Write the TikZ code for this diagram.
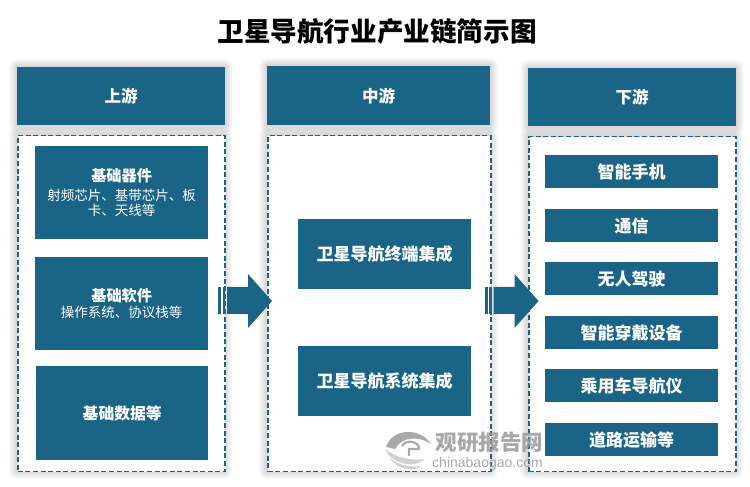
\documentclass[tikz,border=0pt]{standalone}
\usepackage{fontspec}
\setmainfont{Noto Sans CJK SC}
\setsansfont{Liberation Sans}
\definecolor{mainblue}{HTML}{1A6487}
\definecolor{markgray}{HTML}{9A9A9A}
\definecolor{marklight}{HTML}{C8C8C4}
\newcommand{\softshade}[4]{% x0 y0 x1 y1 in px, y measured from top
  \foreach \g in {8,7,6,5,4,3,2,1}{
    \fill[black,opacity=0.018,rounded corners=\g pt]
      ({#1-\g},{487-(#2)+\g}) rectangle ({#3+\g},{487-(#4)-\g});
  }}
\newcommand{\subf}{\fontsize{13.5}{16}\selectfont\mdseries}
\newcommand{\leadf}{\fontsize{15.2}{18}\selectfont\bfseries}
\tikzset{
  x=1pt,y=1pt,
  headbox/.style={fill=mainblue,text=white,font=\fontsize{16.5}{19}\selectfont\bfseries,anchor=north west,inner sep=0pt,align=center,execute at begin node={\vspace*{2pt}}},
  itembox/.style={headbox,font=\fontsize{17}{20}\selectfont\bfseries,execute at begin node={\vspace*{2pt}}},
  stackbox/.style={headbox,font=\leadf},
  framebox/.style={draw=mainblue,line width=1.5pt,dash pattern=on 5pt off 2.6pt,anchor=north west,inner sep=0pt},
  flowarrow/.style={fill=mainblue,draw=none},
  marktext/.style={text=markgray,inner sep=0pt},
}
\newcommand{\placebox}[7]{% style, name, x0, y0, x1, y1, text
  \node[#1,minimum width={(#5-#3)*1pt},minimum height={(#6-#4)*1pt}] (#2) at (#3,{487-(#4)}) {#7};}
\newcommand{\barrow}[1]{% #1 = x shift
  \begin{scope}[xshift=#1pt]
    \fill[flowarrow] (218,{487-287}) rectangle (221,{487-314});
    \fill[flowarrow] (222.5,{487-287}) rectangle (225,{487-314});
    \fill[flowarrow] (227,{487-287}) -- (248,{487-287}) -- (248,{487-274}) -- (272,{487-301})
      -- (248,{487-328}) -- (248,{487-314}) -- (227,{487-314}) -- cycle;
  \end{scope}}
\begin{document}
\begin{tikzpicture}
\useasboundingbox (0,0) rectangle (750,487);
\fill[white] (0,0) rectangle (750,487);
% soft shadows
\softshade{17}{67}{225}{125}
\softshade{267}{66}{490}{125}
\softshade{528}{68}{736}{126}
\softshade{17}{135}{224}{471}
\softshade{267}{135}{490}{471}
\softshade{528}{136}{735}{471}
% title
\node[font=\fontsize{26.6}{30}\selectfont\bfseries,text=black,inner sep=0pt] (title) at (377,{487-31.5}) {卫星导航行业产业链简示图};
% frames
\placebox{framebox,fill=white}{f1}{17}{135}{224}{471}{}
\placebox{framebox,fill=white}{f2}{267}{135}{490}{471}{}
\placebox{framebox,fill=white}{f3}{528}{136}{735}{471}{}
% headers
\placebox{headbox}{h1}{17}{67}{225}{125}{上游}
\placebox{headbox}{h2}{267}{66}{490}{125}{中游}
\placebox{headbox}{h3}{528}{68}{736}{126}{下游}
% upstream
\placebox{stackbox}{u1}{35}{146}{208}{239}{基础器件\\[1pt]\subf 射频芯片、基带芯片、板\\[-3pt]\subf 卡、天线等}
\placebox{stackbox}{u2}{35}{257}{208}{350}{基础软件\\[-2pt]\subf 操作系统、协议栈等}
\placebox{stackbox,font=\fontsize{15.8}{18}\selectfont\bfseries}{u3}{36}{366}{208}{460}{基础数据等}
% midstream
\placebox{itembox,execute at begin node={\vspace*{5pt}}}{m1}{298}{219}{471}{289}{卫星导航终端集成}
\placebox{itembox,execute at begin node={\vspace*{5pt}}}{m2}{298}{346}{471}{416}{卫星导航系统集成}
% downstream
\placebox{itembox,execute at begin node={\vspace*{4pt}}}{d1}{545}{155}{718}{188}{智能手机}
\placebox{itembox,execute at begin node={\vspace*{4pt}}}{d2}{545}{209}{718}{242}{通信}
\placebox{itembox,execute at begin node={\vspace*{4pt}}}{d3}{545}{262}{718}{295}{无人驾驶}
\placebox{itembox,execute at begin node={\vspace*{4pt}}}{d4}{545}{316}{718}{349}{智能穿戴设备}
\placebox{itembox,execute at begin node={\vspace*{4pt}}}{d5}{545}{369}{718}{402}{乘用车导航仪}
\placebox{itembox,execute at begin node={\vspace*{4pt}}}{d6}{545}{423}{718}{456}{道路运输等}
% arrows
\barrow{0}
\barrow{266.5}
% watermark
\begin{scope}[opacity=0.85]
  \fill[markgray] (386,{487-447}) .. controls (392,{487-428}) and (420,{487-427}) .. (431,{487-444})
    .. controls (420,{487-436}) and (402,{487-436}) .. (395,{487-449}) -- cycle;
  \fill[marklight] (385,{487-449}) .. controls (390,{487-462}) and (412,{487-470}) .. (425,{487-459})
    .. controls (412,{487-461}) and (396,{487-458}) .. (385,{487-449}) -- cycle;
  \fill[marklight] (389,{487-457}) .. controls (396,{487-469}) and (414,{487-473}) .. (421,{487-466})
    .. controls (408,{487-468}) and (396,{487-464}) .. (389,{487-457}) -- cycle;
  \draw[markgray,line width=2.2pt] (402,{487-446}) .. controls (406,{487-439}) and (419,{487-441}) .. (419,{487-449})
    -- (409,{487-449}) -- (409,{487-456});
  \node[marktext,font=\fontsize{21.5}{24}\selectfont\bfseries] (wm1) at (489.5,{487-442}) {观研报告网};
  \node[marktext,font=\sffamily\fontsize{14}{16}\selectfont,anchor=center] (wm2) at (487.5,{487-464}) {chinabaogao.com};
\end{scope}
\end{tikzpicture}
\end{document}
